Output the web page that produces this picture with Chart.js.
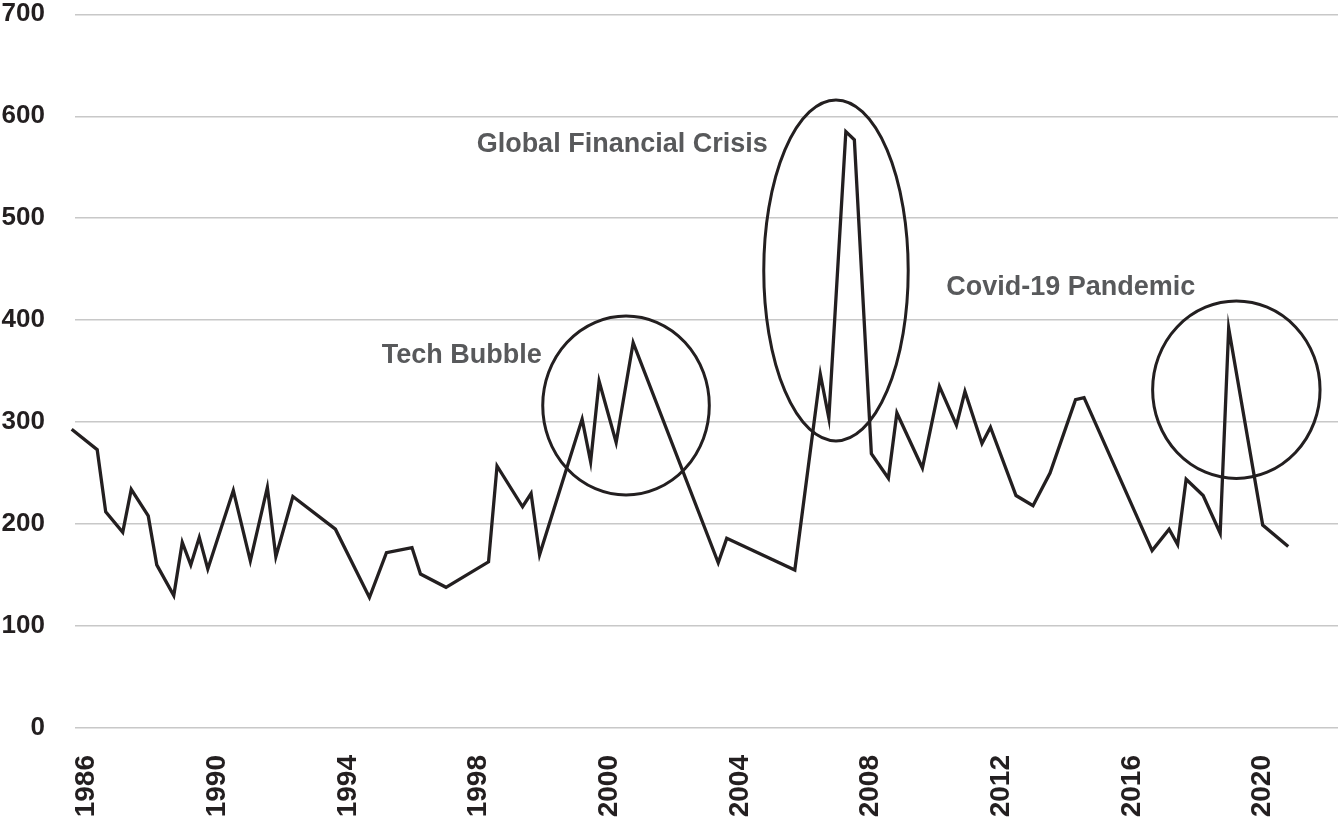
<!DOCTYPE html>
<html><head><meta charset="utf-8">
<script src="https://cdn.jsdelivr.net/npm/chart.js@4.4.1/dist/chart.umd.min.js"></script>
<style>html,body{margin:0;padding:0;background:#fff;} canvas{display:block;}</style>
</head><body>
<canvas id="c" width="1338" height="821"></canvas>
<script>
// Period index (quarters from start of series) and observed values
const periodIndex = [0,3,4,6,7,9,10,12,13,14,15,16,19,21,23,24,26,31,35,37,40,41,44,49,50,53,54,55,60,61,62,64,66,76,77,85,88,89,91,92,94,96,97,100,102,104,105,107,108,111,113,115,118,119,127,129,130,131,133,135,136,140,143];
const values = [293,273,212,192,234,208,160,130,182,160,187,156,233,164,236,168,227,195,128,172,177,151,138,163,257,217,230,170,303,261,340,280,378,162,186,155,347,304,585,577,269,245,309,255,335,297,330,279,295,228,218,250,322,324,174,195,180,244,228,191,392,199,178];
const yearLabels = ['1986','1990','1994','1998','2000','2004','2008','2012','2016','2020'];
const yTickValues = [0,100,200,300,400,500,600,700];
const eventLabels = ['Tech Bubble','Global Financial Crisis','Covid-19 Pandemic'];

// layout constants
const TICK_START = 1.76, TICK_STEP = 15.36;
const FONT = '"Liberation Sans", Arial, Helvetica, sans-serif';

const annotationCfg = {
  ellipses: [
    {x: 65.16, y: 316.3, rx: 9.79, ry: 87.8},
    {x: 89.84, y: 448.8, rx: 8.49, ry: 167.2},
    {x: 136.9, y: 331.8, rx: 9.84, ry: 87.0}
  ],
  texts: [
    {x: 36.44, y: 357.7},
    {x: 47.6, y: 564.7},
    {x: 102.8, y: 424.7}
  ]
};

const annotationPlugin = {
  id: 'events',
  afterDatasetsDraw(chart) {
    const ctx = chart.ctx, xs = chart.scales.x, ys = chart.scales.y;
    ctx.save();
    ctx.strokeStyle = '#231f20';
    ctx.lineWidth = 3;
    annotationCfg.ellipses.forEach(e => {
      const cx = xs.getPixelForValue(e.x), cy = ys.getPixelForValue(e.y);
      const rx = Math.abs(xs.getPixelForValue(e.x + e.rx) - cx);
      const ry = Math.abs(ys.getPixelForValue(e.y + e.ry) - cy);
      ctx.beginPath();
      ctx.ellipse(cx, cy, rx, ry, 0, 0, Math.PI * 2);
      ctx.stroke();
    });
    ctx.fillStyle = '#58595b';
    ctx.font = 'bold 27px ' + FONT;
    ctx.textAlign = 'left';
    ctx.textBaseline = 'alphabetic';
    annotationCfg.texts.forEach((t, i) => {
      ctx.fillText(eventLabels[i], xs.getPixelForValue(t.x), ys.getPixelForValue(t.y));
    });
    ctx.restore();
  }
};

new Chart(document.getElementById('c'), {
  type: 'line',
  data: {
    datasets: [{
      data: periodIndex.map((p, i) => ({x: p, y: values[i]})),
      borderColor: '#231f20',
      borderWidth: 3.3,
      pointRadius: 0,
      tension: 0,
      clip: false,
      fill: false
    }]
  },
  options: {
    responsive: false,
    animation: false,
    devicePixelRatio: 1,
    layout: {padding: {top: 14.3, left: 0, right: 0, bottom: 0}},
    plugins: {legend: {display: false}, tooltip: {enabled: false}},
    scales: {
      x: {
        type: 'linear',
        min: 0.39,
        max: 148.85,
        grid: {display: false},
        border: {display: false},
        afterBuildTicks: s => { s.ticks = yearLabels.map((l, k) => ({value: TICK_START + k * TICK_STEP})); },
        afterFit: s => { s.height = 93; s.paddingLeft = 0; s.paddingRight = 0; },
        ticks: {
          autoSkip: false,
          minRotation: 90,
          maxRotation: 90,
          padding: 19,
          color: '#231f20',
          font: {family: FONT, size: 28, weight: 'bold', lineHeight: 1},
          callback: (v, i) => yearLabels[i]
        }
      },
      y: {
        min: 0,
        max: 700,
        afterBuildTicks: s => { s.ticks = yTickValues.map(v => ({value: v})); },
        afterFit: s => { s.width = 75; s.paddingTop = 0; s.paddingBottom = 0; },
        grid: {color: '#c8c8c8', lineWidth: 1.5, drawTicks: false},
        border: {display: false},
        ticks: {
          padding: 30,
          color: '#231f20',
          font: {family: FONT, size: 26, weight: 'bold', lineHeight: 1}
        }
      }
    }
  },
  plugins: [annotationPlugin]
});
</script>
</body></html>
